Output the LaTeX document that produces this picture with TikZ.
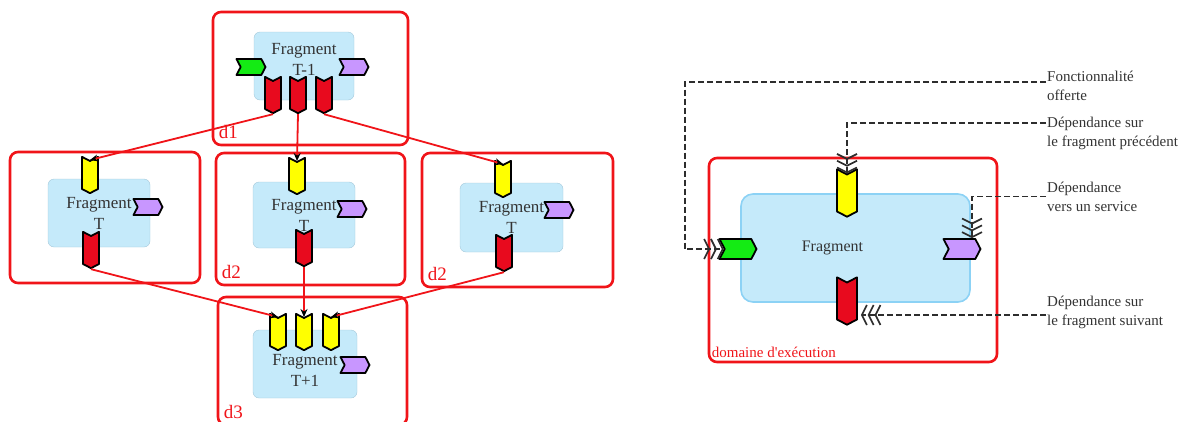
\documentclass[tikz,border=0pt]{standalone}
\usepackage{fontspec}
\setmainfont{Liberation Serif}
\usetikzlibrary{shapes.symbols, arrows.meta, positioning}

\definecolor{domred}{RGB}{240,20,25}
\definecolor{fragblue}{RGB}{197,234,250}
\definecolor{fragline}{RGB}{165,200,218}
\definecolor{chred}{RGB}{232,10,30}
\definecolor{chyellow}{RGB}{255,255,0}
\definecolor{chgreen}{RGB}{20,235,20}
\definecolor{chpurple}{RGB}{200,150,255}
\definecolor{leadgray}{RGB}{45,45,45}

\begin{document}
\begin{tikzpicture}[
    x=1pt, y=-1pt,
    font=\fontsize{17}{21}\selectfont,
    dombox/.style={draw=domred, line width=2.6pt, rounded corners=8pt},
    domlbl/.style={text=domred, inner sep=0pt, font=\fontsize{19}{19}\selectfont},
    frag/.style={draw=fragline, fill=fragblue, rounded corners=6pt, align=center, text=black!80},
    fragtxt/.style={align=center, text=black!80},
    chevron/.style={signal, draw=black, line width=1.8pt, line join=round, inner sep=0pt, signal pointer angle=125},
    pdown/.style={chevron, signal from=north, signal to=south, minimum width=16pt, minimum height=28pt},
    pright/.style={chevron, signal from=west, signal to=east, minimum width=29pt, minimum height=16pt},
    link/.style={draw=domred, line width=1.8pt, -{Stealth[color=black, length=8pt, width=7pt]}},
    leader/.style={draw=leadgray, line width=1.7pt, dash pattern=on 6pt off 3pt,
      -{Straight Barb[length=5pt, width=20pt, sep=0pt] Straight Barb[length=5pt, width=20pt, sep=0pt] Straight Barb[length=5pt, width=20pt]}},
    lbl/.style={anchor=west, align=left, inner sep=1pt, font=\fontsize{15}{19}\selectfont, text=black!80}
  ]
  \clip (0,0) rectangle (1194,421);

  % execution domains
  \node[dombox, minimum width=195pt, minimum height=133pt] (d1) at (310.5,78.5) {};
  \node[dombox, minimum width=190pt, minimum height=131pt] (dL) at (105,217.5) {};
  \node[dombox, minimum width=189pt, minimum height=132pt] (dM) at (310.5,219) {};
  \node[dombox, minimum width=191pt, minimum height=134pt] (dR) at (517.5,220) {};
  \node[dombox, minimum width=189pt, minimum height=128pt] (d3) at (312.5,361) {};
  \node[domlbl, anchor=base west] at ([shift={(7pt,8pt)}]d1.south west) {d1};
  \node[domlbl, anchor=base west] at ([shift={(7pt,8pt)}]dM.south west) {d2};
  \node[domlbl, anchor=base west] at ([shift={(7pt,8pt)}]dR.south west) {d2};
  \node[domlbl, anchor=base west] at ([shift={(7pt,8pt)}]d3.south west) {d3};

  % fragments
  \node[frag, minimum width=100pt, minimum height=68pt, text depth=13pt] (fA) at (304,66) {Fragment\\T-1};
  \node[frag, minimum width=102pt, minimum height=68pt] (fL) at (99,213) {Fragment\\T};
  \node[frag, minimum width=102pt, minimum height=66pt] (fM) at (304,215) {Fragment\\T};
  \node[frag, minimum width=103pt, minimum height=69pt] (fR) at (511.5,217.5) {Fragment\\T};
  \node[frag, minimum width=104pt, minimum height=68pt,
    label={[fragtxt, yshift=-6pt]center:Fragment\\T+1}] (fN) at (305,364) {};

  % ports
  \node[pright, fill=chgreen] (aIn) at (251,67) {};
  \node[pright, fill=chpurple] (aSrv) at (354,67) {};
  \node[pdown, fill=chred] (aOut1) at (273,95) {};
  \node[pdown, fill=chred] (aOut2) at (298,95) {};
  \node[pdown, fill=chred] (aOut3) at (324,95) {};

  \node[pdown, fill=chyellow] (lIn) at (90,175) {};
  \node[pright, fill=chpurple] (lSrv) at (148,207) {};
  \node[pdown, fill=chred] (lOut) at (91,250) {};

  \node[pdown, fill=chyellow] (mIn) at (297,176) {};
  \node[pright, fill=chpurple] (mSrv) at (352,209) {};
  \node[pdown, fill=chred] (mOut) at (304,248) {};

  \node[pdown, fill=chyellow] (rIn) at (503,179) {};
  \node[pright, fill=chpurple] (rSrv) at (559,210) {};
  \node[pdown, fill=chred] (rOut) at (504,253) {};

  \node[pdown, fill=chyellow] (nIn1) at (278,332) {};
  \node[pdown, fill=chyellow] (nIn2) at (304,332) {};
  \node[pdown, fill=chyellow] (nIn3) at (331,332) {};
  \node[pright, fill=chpurple] (nSrv) at (355,365) {};

  % dependencies between fragments
  \draw[link] (aOut1.south) -- (lIn.north);
  \draw[link] (aOut2.south) -- (mIn.north);
  \draw[link] (aOut3.south) -- (rIn.north);
  \draw[link] (lOut.south) -- (nIn1.north);
  \draw[link] (mOut.south) -- (nIn2.north);
  \draw[link] (rOut.south) -- (nIn3.north);

  % legend
  \node[dombox, minimum width=288pt, minimum height=204pt] (dX) at (853,260) {};
  \node[domlbl, anchor=base west, font=\fontsize{15}{15}\selectfont] at ([shift={(4pt,6pt)}]dX.south west) {domaine d\textquotesingle exécution};
  \node[frag, draw={rgb,255:red,140;green,210;blue,245}, line width=1.6pt, rounded corners=12pt,
    minimum width=229pt, minimum height=108pt,
    label={[fragtxt, xshift=-23pt, font=\fontsize{16}{18}\selectfont]center:Fragment}] (fX) at (855.5,248) {};
  \node[pdown, fill=chyellow, minimum width=20pt, minimum height=37pt] (xIn) at (847,193) {};
  \node[pright, fill=chgreen, minimum width=37pt, minimum height=20pt] (xFn) at (738,249) {};
  \node[pright, fill=chpurple, minimum width=37pt, minimum height=20pt] (xSrv) at (962,249) {};
  \node[pdown, fill=chred, minimum width=20pt, minimum height=37pt] (xOut) at (847,301) {};

  \node[lbl] (nFn) at (1046,86) {Fonctionnalité\\offerte};
  \node[lbl] (nPrev) at (1046,133) {Dépendance sur\\le fragment précédent};
  \node[lbl] (nSrv) at (1046,196.5) {Dépendance\\vers un service};
  \node[lbl] (nNext) at (1046,312) {Dépendance sur\\le fragment suivant};

  \draw[leader] ([yshift=4pt]nFn.west) -| ([xshift=-39pt]xFn.west) -- (xFn.west);
  \draw[leader] ([yshift=10pt]nPrev.west) -| (xIn.north);
  \draw[leader] (nSrv.west) -| ([xshift=10pt]xSrv.north);
  \draw[leader] ([yshift=-3pt]nNext.west) -- ([shift={(3pt,-14pt)}]xOut.east);
\end{tikzpicture}
\end{document}
